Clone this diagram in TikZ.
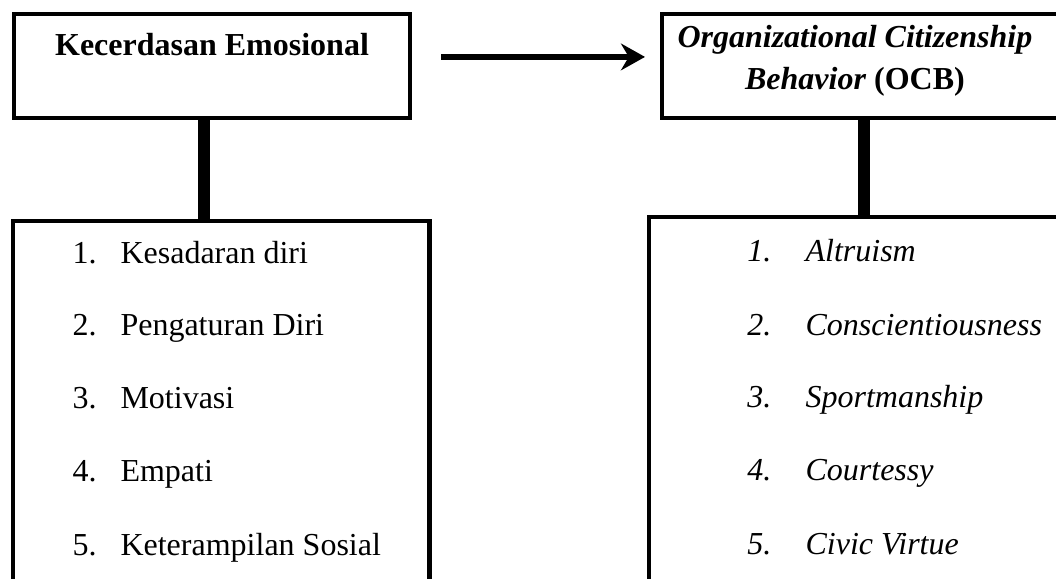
\documentclass[tikz,border=0pt]{standalone}
\usepackage{fontspec}
\setmainfont{Liberation Serif}
\usetikzlibrary{arrows.meta}

\begin{document}
\begin{tikzpicture}[font=\fontsize{12pt}{16.1pt}\selectfont,
  box/.style={draw, line width=1.5pt, inner sep=0pt},
  listbox/.style={draw, line width=1.8pt, inner sep=0pt},
  link/.style={line width=4.5pt},
  item/.style={anchor=base west, inner sep=0pt}]
  \clip (0,0) rectangle (396pt,216.75pt);
  % Boxes
  \node [box, minimum width=148.5pt, minimum height=39pt] (ke) at (79.5pt,192pt) {};
  \node [box, minimum width=156.75pt, minimum height=39pt] (ocb) at (326.6pt,192pt) {};
  \node [listbox, minimum width=156.2pt, minimum height=143.9pt] (kelist) at (83pt,61.95pt) {};
  \node [listbox, minimum width=161.6pt, minimum height=145.4pt] (ocblist) at (324.2pt,62.7pt) {};

  % Titles
  \node [anchor=base, inner sep=0pt] (ketitle) at (79.5pt,196.1pt) {\textbf{Kecerdasan Emosional}};
  \node [anchor=base, align=center, inner sep=0pt] (ocbtitle) at (320.6pt,183pt)
    {\textbf{\textit{Organizational Citizenship}}\\\textbf{\textit{Behavior} (OCB)}};

  % Items
  \node [item] (ke1) at (27pt,118.1pt) {\makebox[18pt][l]{1.}Kesadaran diri};
  \node [item] (ke2) at (27pt,90.75pt) {\makebox[18pt][l]{2.}Pengaturan Diri};
  \node [item] (ke3) at (27pt,63.4pt) {\makebox[18pt][l]{3.}Motivasi};
  \node [item] (ke4) at (27pt,36pt) {\makebox[18pt][l]{4.}Empati};
  \node [item] (ke5) at (27pt,8.6pt) {\makebox[18pt][l]{5.}Keterampilan Sosial};

  \node [item] (ocb1) at (280.1pt,118.5pt) {\itshape\makebox[21.8pt][l]{1.}Altruism};
  \node [item] (ocb2) at (280.1pt,91.1pt) {\itshape\makebox[21.8pt][l]{2.}Conscientiousness};
  \node [item] (ocb3) at (280.1pt,63.8pt) {\itshape\makebox[21.8pt][l]{3.}Sportmanship};
  \node [item] (ocb4) at (280.1pt,36.4pt) {\itshape\makebox[21.8pt][l]{4.}Courtessy};
  \node [item] (ocb5) at (280.1pt,9pt) {\itshape\makebox[21.8pt][l]{5.}Civic Virtue};

  % Connectors
  \draw [line width=2pt, -{Stealth[length=9pt,width=10pt]}, shorten <=10.9pt, shorten >=5.6pt]
    ([yshift=3.4pt]ke.east) -- ([yshift=3.4pt]ocb.west);
  \draw [link] ([xshift=-3pt]ke.south) -- ([xshift=-6.5pt]kelist.north);
  \draw [link] ([xshift=-2.6pt]ocb.south) -- ([xshift=-0.2pt]ocblist.north);
\end{tikzpicture}
\end{document}
